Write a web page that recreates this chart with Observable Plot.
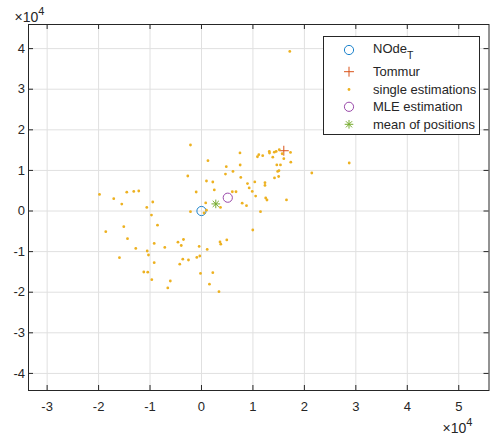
<!DOCTYPE html>
<html><head><meta charset="utf-8">
<script src="https://cdn.jsdelivr.net/npm/d3@7"></script>
<script src="https://cdn.jsdelivr.net/npm/@observablehq/plot@0.6"></script>
<style>
body{margin:0;background:#fff;}
#wrap{position:relative;width:491px;height:437px;font-family:"Liberation Sans",Arial,sans-serif;color:#262626;}
#legend{position:absolute;left:323px;top:36px;}
</style></head><body><div id="wrap"></div>
<script>
// single estimations (x, y)
const singleX = [-19820,-17050,-15490,-14520,-13160,-12190,-9470,-10630,-9720,-2660,-2140,-2140,-8550,-18600,-15100,-14380,-12770,-9190,-10550,-10300,-15940,-7130,-4570,-3500,-3930,-3630,-2530,-4220,-9190,-11210,-10440,-9660,-6060,-6550,-450,1110,-910,-330,-190,2200,1550,3400,4920,3600,3750,9970,11470,970,490,820,3690,-1030,2490,970,2200,1260,4820,4660,6120,7480,7520,7640,5990,6710,7910,8750,8940,10360,12340,12340,9270,9870,10530,12480,12730,16520,10880,11140,11900,13180,13220,14150,14520,13860,15120,15680,16000,17300,17360,14640,15350,15060,14810,15000,14190,21440,28710,17160];
const singleY = [4090,3030,1720,4630,4830,4930,2220,890,-990,8620,16260,-170,-3500,-5100,-3870,-6820,-9210,-7980,-9850,-10840,-11500,-8970,-7680,-7020,-8500,-11870,-12070,-13100,-12730,-15020,-15070,-16920,-17240,-18940,-8720,-9460,-11430,-11080,-15370,-15200,-18030,-19880,-7120,-7610,-8180,-4680,-170,200,-490,2000,890,4680,5200,7390,7140,12390,10910,9110,9750,14310,11330,8280,4750,4750,1920,1310,6770,7170,6970,6310,5690,4830,3690,3200,2710,2730,13370,13870,13620,14660,14290,14480,14680,13250,15120,14110,12880,14430,12020,11350,11350,9930,9750,8500,8150,9360,11820,39310];
const nodeT = [{x: 0, y: 0}];
const tommur = [{x: 16000, y: 14850}];
const mle = [{x: 5110, y: 3280}];
const meanPos = [{x: 2780, y: 1750}];
const xTicks = [-30000,-20000,-10000,0,10000,20000,30000,40000,50000];
const xTickLabels = ["-3","-2","-1","0","1","2","3","4","5"];
const yTicks = [-40000,-30000,-20000,-10000,0,10000,20000,30000,40000];
const yTickLabels = ["-4","-3","-2","-1","0","1","2","3","4"];
const legendNames = ["NOde", "Tommur", "single estimations", "MLE estimation", "mean of positions"];

const singles = singleX.map((x, i) => ({x, y: singleY[i]}));

const W = 491, H = 437, mL = 28, mR = 2.5, mT = 24, mB = 47;
const innerW = W - mL - mR, innerH = H - mT - mB;
const ink = "#262626";
const cBlue = "#1a82cc", cRed = "#D95319", cYel = "#EDB120", cPur = "#9a4aaa", cGrn = "#77AC30";

const chart = Plot.plot({
  width: W, height: H,
  marginLeft: mL, marginRight: mR, marginTop: mT, marginBottom: mB,
  style: {fontFamily: "'Liberation Sans', Arial, sans-serif", fontSize: "13px", color: ink, background: "white"},
  x: {domain: [-33620, 55880], label: null},
  y: {domain: [-44210, 45940], label: null},
  marks: [
    Plot.gridX(xTicks, {stroke: "#e0e0e0", strokeOpacity: 1}),
    Plot.gridY(yTicks, {stroke: "#e0e0e0", strokeOpacity: 1}),
    Plot.tickX(xTicks, {x: d => d, insetTop: innerH - 5, stroke: ink}),
    Plot.tickX(xTicks, {x: d => d, insetBottom: innerH - 5, stroke: ink}),
    Plot.tickY(yTicks, {y: d => d, insetRight: innerW - 5, stroke: ink}),
    Plot.tickY(yTicks, {y: d => d, insetLeft: innerW - 5, stroke: ink}),
    Plot.frame({stroke: ink}),
    Plot.axisX(xTicks, {tickSize: 0, tickPadding: 11.5, tickFormat: d => xTickLabels[xTicks.indexOf(d)], label: null}),
    Plot.axisY(yTicks, {tickSize: 0, tickPadding: 3.5, tickFormat: d => yTickLabels[yTicks.indexOf(d)], label: null}),
    Plot.dot(nodeT, {x: "x", y: "y", r: 4.6, stroke: cBlue, fill: "none", strokeWidth: 1}),
    Plot.dot(tommur, {x: "x", y: "y", symbol: "plus", r: 3.3, stroke: cRed, strokeWidth: 1}),
    Plot.dot(singles, {x: "x", y: "y", r: 1.4, fill: cYel, stroke: "none"}),
    Plot.dot(mle, {x: "x", y: "y", r: 4.6, stroke: cPur, fill: "none", strokeWidth: 1}),
    Plot.dot(meanPos, {x: "x", y: "y", symbol: "plus", r: 2.9, stroke: cGrn, strokeWidth: 1}),
    Plot.dot(meanPos, {x: "x", y: "y", symbol: "times", r: 2.9, stroke: cGrn, strokeWidth: 1})
  ]
});
document.getElementById("wrap").appendChild(chart);

// exponent labels
const svg = d3.select(chart);
function expLabel(x, y) {
  const t = svg.append("text").attr("x", x).attr("y", y).attr("fill", ink)
    .style("font-size", "14px").style("font-family", "'Liberation Sans', Arial, sans-serif");
  t.append("tspan").text("×10");
  t.append("tspan").attr("dy", -7).style("font-size", "11px").text("4");
}
expLabel(29.5, 21.7);
expLabel(457.5, 433.3);

// legend
const lg = d3.select("#wrap").append("svg").attr("id", "legend")
  .attr("width", 157).attr("height", 99);
lg.append("rect").attr("x", 0.5).attr("y", 0.5).attr("width", 156).attr("height", 98)
  .attr("fill", "white").attr("stroke", ink).attr("stroke-width", 1);
const rows = [14, 35.7, 53.5, 70.8, 88.3];
const mx = 26, tx = 50;
const g = lg.append("g").attr("fill", ink).style("font-family", "'Liberation Sans', Arial, sans-serif").style("font-size", "13px");
// markers
lg.append("circle").attr("cx", mx).attr("cy", rows[0]).attr("r", 4.6).attr("fill", "none").attr("stroke", cBlue);
lg.append("path").attr("transform", `translate(${mx},${rows[1]})`).attr("d", d3.symbol(d3.symbolPlus, Math.PI * 3.3 * 3.3)()).attr("fill", "none").attr("stroke", cRed);
lg.append("circle").attr("cx", mx).attr("cy", rows[2]).attr("r", 1.4).attr("fill", cYel);
lg.append("circle").attr("cx", mx).attr("cy", rows[3]).attr("r", 4.6).attr("fill", "none").attr("stroke", cPur);
lg.append("path").attr("transform", `translate(${mx},${rows[4]})`).attr("d", d3.symbol(d3.symbolPlus, Math.PI * 2.9 * 2.9)()).attr("fill", "none").attr("stroke", cGrn);
lg.append("path").attr("transform", `translate(${mx},${rows[4]})`).attr("d", d3.symbol(d3.symbolTimes, Math.PI * 2.9 * 2.9)()).attr("fill", "none").attr("stroke", cGrn);
// texts
const t0 = g.append("text").attr("x", tx).attr("y", 16.7);
t0.append("tspan").text(legendNames[0]);
t0.append("tspan").attr("dy", 6.5).style("font-size", "10.5px").text("T");
legendNames.slice(1).forEach((n, i) => {
  g.append("text").attr("x", tx).attr("y", rows[i + 1] + 4.4).text(n);
});
</script></body></html>
